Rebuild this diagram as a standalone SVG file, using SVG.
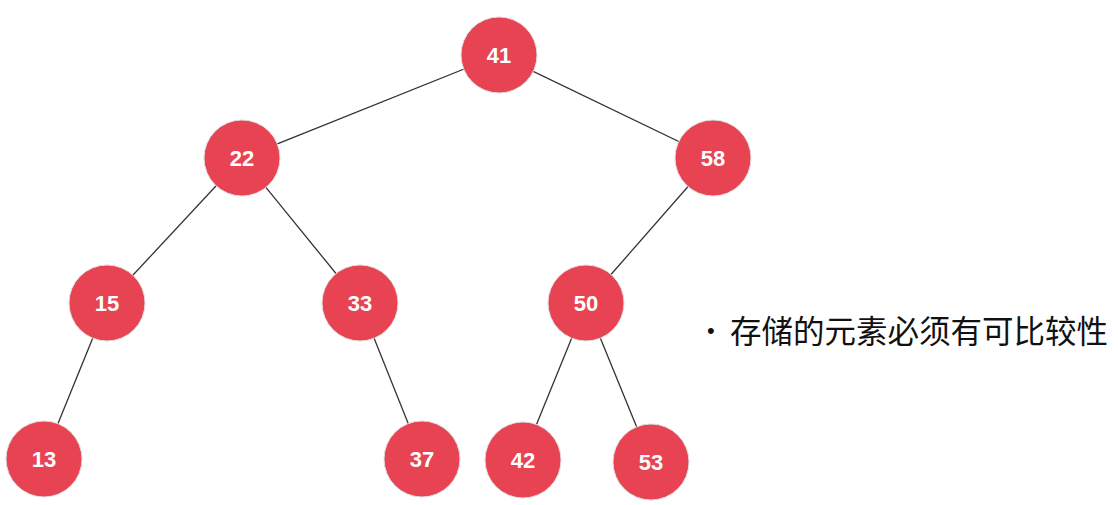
<svg xmlns="http://www.w3.org/2000/svg" width="1118" height="505" viewBox="0 0 1118 505">
<style>
.n circle{fill:#e84352;stroke:#e0dada;stroke-width:1}
.n text{fill:#fff;font-family:"Liberation Sans",Arial,sans-serif;font-weight:bold;font-size:22px;text-anchor:middle;dominant-baseline:central}
.e line{stroke:#333;stroke-width:1.3}
.t{font-family:"Noto Sans CJK SC","Noto Sans",sans-serif;font-size:31.5px;fill:#111}
.b{font-family:"Liberation Sans",Arial,sans-serif;font-size:22px;fill:#111}
</style>
<rect width="1118" height="505" fill="#fff"/>
<g id="edges" class="e">
<line x1="499" y1="55" x2="242" y2="158"/>
<line x1="499" y1="55" x2="713" y2="158"/>
<line x1="242" y1="158" x2="107" y2="303"/>
<line x1="242" y1="158" x2="360" y2="303"/>
<line x1="713" y1="158" x2="586" y2="303"/>
<line x1="107" y1="303" x2="44" y2="458"/>
<line x1="360" y1="303" x2="422" y2="458"/>
<line x1="586" y1="303" x2="522" y2="460"/>
<line x1="586" y1="303" x2="651" y2="462"/>
</g>
<g id="n41" class="n"><circle cx="499" cy="55" r="38"/><text x="499" y="55">41</text></g>
<g id="n22" class="n"><circle cx="242" cy="158" r="38"/><text x="242" y="158">22</text></g>
<g id="n58" class="n"><circle cx="713" cy="158" r="38"/><text x="713" y="158">58</text></g>
<g id="n15" class="n"><circle cx="107" cy="303" r="38"/><text x="107" y="303">15</text></g>
<g id="n33" class="n"><circle cx="360" cy="303" r="38"/><text x="360" y="303">33</text></g>
<g id="n50" class="n"><circle cx="586" cy="303" r="38"/><text x="586" y="303">50</text></g>
<g id="n13" class="n"><circle cx="44" cy="459" r="38"/><text x="44" y="459">13</text></g>
<g id="n37" class="n"><circle cx="422" cy="459" r="38"/><text x="422" y="459">37</text></g>
<g id="n42" class="n"><circle cx="523" cy="460" r="38"/><text x="523" y="460">42</text></g>
<g id="n53" class="n"><circle cx="651" cy="462" r="38"/><text x="651" y="462">53</text></g>
<g id="note">
<text class="b" x="707" y="338">•</text>
<text class="t" x="730" y="343">存储的元素必须有可比较性</text>
</g>
</svg>
